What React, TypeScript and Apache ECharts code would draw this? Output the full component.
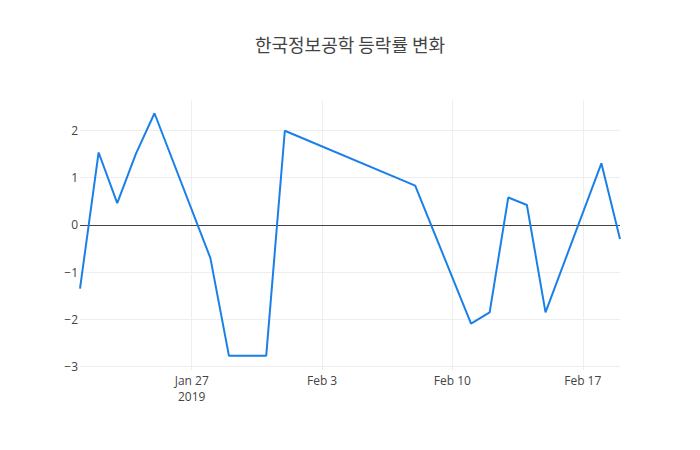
import { useRef, useEffect } from 'react'
import * as echarts from 'echarts'

const title = '한국정보공학 등락률 변화'

const dates = [
  '2019-01-21', '2019-01-22', '2019-01-23', '2019-01-24', '2019-01-25',
  '2019-01-28', '2019-01-29', '2019-01-31', '2019-02-01', '2019-02-08',
  '2019-02-11', '2019-02-12', '2019-02-13', '2019-02-14', '2019-02-15',
  '2019-02-18', '2019-02-19',
]
const changes = [
  -1.35, 1.53, 0.46, 1.5, 2.36,
  -0.7, -2.77, -2.77, 1.99, 0.83,
  -2.09, -1.85, 0.58, 0.42, -1.85,
  1.3, -0.3,
]

const yTicks = [-3, -2, -1, 0, 1, 2]
const xTicks = ['2019-01-27', '2019-02-03', '2019-02-10', '2019-02-17']
const xTickLabels = ['Jan 27\n2019', 'Feb 3', 'Feb 10', 'Feb 17']
const xStart = '2019-01-21'
const xEnd = '2019-02-19'

const DAY = 86400000
// days since the start of the x range
const dayOf = (d: string) => Math.round((Date.UTC(+d.slice(0, 4), +d.slice(5, 7) - 1, +d.slice(8, 10)) - Date.UTC(2019, 0, 21)) / DAY)

export default function App() {
  const chartRef = useRef<HTMLDivElement>(null)

  useEffect(() => {
    document.body.style.margin = '0'
    if (!chartRef.current) return
    const instance = echarts.init(chartRef.current, null, { renderer: 'svg' })
    const xTickDays = xTicks.map(dayOf)

    instance.setOption({
      animation: false,
      textStyle: { fontFamily: '"Open Sans", sans-serif' },
      title: {
        text: title,
        left: 'center',
        top: 30,
        textStyle: {
          fontFamily: '"Noto Sans CJK KR", sans-serif',
          fontSize: 18,
          fontWeight: 'normal',
          color: '#444',
        },
      },
      grid: { left: 80, right: 80, top: 100, bottom: 80, containLabel: false },
      xAxis: {
        type: 'value',
        min: dayOf(xStart),
        max: dayOf(xEnd),
        axisLine: { show: false },
        axisTick: { show: false },
        splitLine: { show: false },
        axisLabel: {
          customValues: xTickDays,
          color: '#444',
          fontSize: 12,
          margin: 2,
          lineHeight: 16,
          formatter: (v: number) => {
            const i = xTickDays.indexOf(Math.round(v))
            return i >= 0 ? xTickLabels[i] : ''
          },
        },
      },
      yAxis: {
        type: 'value',
        min: -3.07,
        max: 2.64,
        axisLine: { show: false },
        axisTick: { show: false },
        splitLine: { show: false },
        axisLabel: {
          customValues: yTicks,
          color: '#444',
          fontSize: 12,
          margin: 2,
          formatter: (v: number) => (v < 0 ? '\u2212' + Math.abs(v) : String(v)),
        },
      },
      series: [
        {
          type: 'line',
          data: dates.map((d, i) => [dayOf(d), changes[i]]),
          showSymbol: false,
          symbol: 'none',
          lineStyle: { color: '#1a80e8', width: 2 },
          z: 5,
          markLine: {
            silent: true,
            symbol: 'none',
            label: { show: false },
            emphasis: { disabled: true },
            data: [
              ...yTicks.filter(v => v !== 0).map(v => ({
                yAxis: v,
                lineStyle: { color: '#eee', width: 1, type: 'solid' },
              })),
              ...xTickDays.map(v => ({
                xAxis: v,
                lineStyle: { color: '#eee', width: 1, type: 'solid' },
              })),
              { yAxis: 0, lineStyle: { color: '#444', width: 1, type: 'solid' } },
            ],
            z: 1,
          },
        },
      ],
    })

    return () => {
      instance.dispose()
    }
  }, [])

  return <div ref={chartRef} style={{ width: 700, height: 450 }} />
}
